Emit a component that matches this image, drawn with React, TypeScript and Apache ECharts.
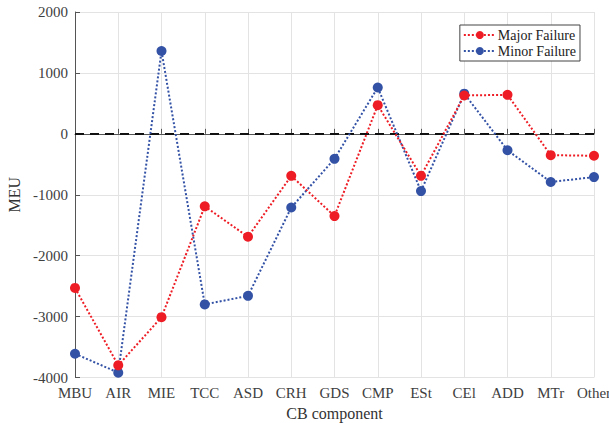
import React, { useEffect, useRef } from "react";
import * as echarts from "echarts";

const categories = ["MBU", "AIR", "MIE", "TCC", "ASD", "CRH", "GDS", "CMP", "ESt", "CEl", "ADD", "MTr", "Other"];
const majorFailure = [-2530, -3800, -3010, -1190, -1690, -690, -1350, 470, -690, 630, 640, -350, -360];
const minorFailure = [-3610, -3920, 1360, -2800, -2660, -1210, -410, 760, -940, 660, -270, -790, -710];
const yTicks = { min: -4000, max: 2000, interval: 1000 };

const FONT = "'Liberation Serif', 'Times New Roman', 'DejaVu Serif', serif";
const RED = "#ee1d25";
const BLUE = "#3352a6";

export default function App() {
  const ref = useRef<HTMLDivElement>(null);
  useEffect(() => {
    if (!ref.current) return;
    const chart = echarts.init(ref.current, undefined, { renderer: "svg" });
    chart.setOption({
      animation: false,
      textStyle: { fontFamily: FONT },
      grid: { left: 75, right: 15, top: 12, bottom: 45.5, containLabel: false, outerBoundsMode: "none" },
      legend: {
        orient: "vertical",
        right: 29,
        top: 25,
        padding: [3, 4, 3, 3],
        itemGap: 2,
        itemWidth: 32,
        itemHeight: 10,
        borderColor: "#444",
        borderWidth: 1,
        backgroundColor: "#fff",
        textStyle: { fontFamily: FONT, fontSize: 14, color: "#222", padding: [0, 0, 0, -3] },
        data: ["Major Failure", "Minor Failure"],
      },
      xAxis: {
        type: "category",
        data: categories,
        boundaryGap: false,
        name: "CB component",
        nameLocation: "middle",
        nameGap: 25,
        nameTextStyle: { fontFamily: FONT, fontSize: 16, color: "#333" },
        axisLine: { lineStyle: { color: "#555", width: 1 } },
        axisTick: { inside: true, length: 5, lineStyle: { color: "#555" } },
        axisLabel: { fontFamily: FONT, fontSize: 15, color: "#404040", margin: 8, interval: 0 },
        splitLine: { show: true, lineStyle: { color: "#e3e3e3", width: 1 } },
      },
      yAxis: {
        type: "value",
        min: yTicks.min,
        max: yTicks.max,
        interval: yTicks.interval,
        name: "MEU",
        nameLocation: "middle",
        nameGap: 50,
        nameTextStyle: { fontFamily: FONT, fontSize: 16, color: "#333" },
        axisLine: { show: true, lineStyle: { color: "#555", width: 1 } },
        axisTick: { show: true, inside: true, length: 5, lineStyle: { color: "#555" } },
        axisLabel: { fontFamily: FONT, fontSize: 15, color: "#404040", margin: 7, formatter: (v: number) => String(v) },
        splitLine: { show: true, lineStyle: { color: "#e3e3e3", width: 1 } },
      },
      series: [
        {
          name: "Major Failure",
          type: "line",
          data: majorFailure,
          symbol: "circle",
          symbolSize: 10,
          itemStyle: { color: RED },
          lineStyle: { color: RED, width: 2, type: [2, 2] },
          z: 3,
          markLine: {
            silent: true,
            symbol: "none",
            label: { show: false },
            lineStyle: { color: "#111", width: 2, type: [9, 6] },
            data: [{ yAxis: 0 }],
            z: 1,
          },
        },
        {
          name: "Minor Failure",
          type: "line",
          data: minorFailure,
          symbol: "circle",
          symbolSize: 10,
          itemStyle: { color: BLUE },
          lineStyle: { color: BLUE, width: 2, type: [2, 2] },
          z: 2,
        },
      ],
    });
    return () => chart.dispose();
  }, []);
  return <div ref={ref} style={{ width: 609, height: 423, position: "absolute", left: 0, top: 0 }} />;
}
